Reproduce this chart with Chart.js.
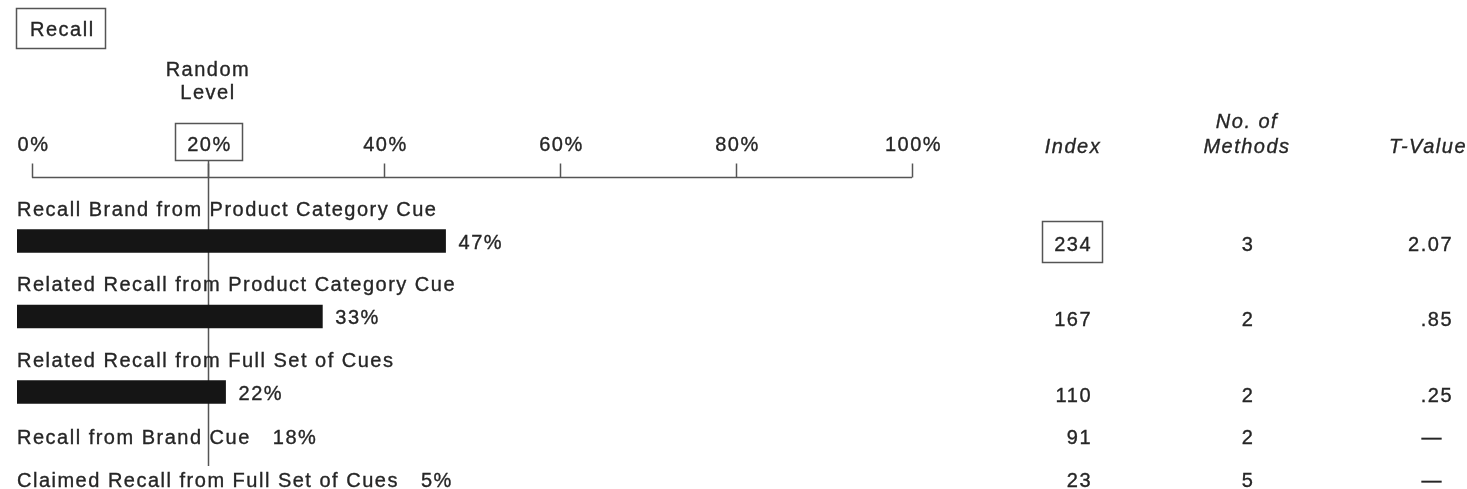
<!DOCTYPE html>
<html>
<head>
<meta charset="utf-8">
<script src="https://cdn.jsdelivr.net/npm/chart.js@4.4.0/dist/chart.umd.min.js"></script>
<style>
  html, body { margin: 0; padding: 0; background: #fff; }
  canvas { display: block; }
</style>
</head>
<body>
<canvas id="recallChart" width="1467" height="489"></canvas>
<script>
/* ---------- DATA ---------- */
const rowLabels = [
    "Recall Brand from Product Category Cue",
    "Related Recall from Product Category Cue",
    "Related Recall from Full Set of Cues",
    "Recall from Brand Cue",
    "Claimed Recall from Full Set of Cues"
];
const recallPct = [47, 33, 22, 18, 5];
const showBar = [true, true, true, false, false];
const indexValues = [234, 167, 110, 91, 23];
const methodCounts = [3, 2, 2, 2, 5];
const tValues = ["2.07", ".85", ".25", "\u2014", "\u2014"];
const axisTicks = [0, 20, 40, 60, 80, 100];
const randomLevel = 20;
const boxedIndexRow = 0;

/* ---------- STYLE ---------- */
const TEXT = "#262626";
const LINE = "#555555";
const BAR = "#151515";
const FONT = '20px "Liberation Sans", Arial, sans-serif';
const FONT_IT = 'italic 20px "Liberation Sans", Arial, sans-serif';
const SPACING = "1.5px";

/* row layout (y scale units = px below the axis line) */
const TOP_GAP = 31, LABEL_GAP = 33, ROW_GAP = 42.5;
const rowPos = [];
let cursor = TOP_GAP;
showBar.forEach((hasBar) => {
    if (hasBar) cursor += LABEL_GAP;
    rowPos.push(cursor);
    cursor += ROW_GAP;
});

const barData = recallPct
    .map((v, i) => ({ x: v, y: rowPos[i] }))
    .filter((_, i) => showBar[i]);

/* ---------- DRAW HELPERS ---------- */
function txt(ctx, s, x, y, align, font) {
    ctx.font = font || FONT;
    ctx.textAlign = align || "left";
    ctx.textBaseline = "middle";
    ctx.fillStyle = TEXT;
    ctx.strokeStyle = TEXT;
    ctx.lineWidth = 0.35;
    ctx.fillText(s, x, y);
    ctx.strokeText(s, x, y);
}

const randomLinePlugin = {
    id: "randomLine",
    beforeDatasetsDraw(chart) {
        const { ctx, scales: { x, y } } = chart;
        const px = Math.round(x.getPixelForValue(randomLevel)) + 0.5;
        const last = y.getPixelForValue(rowPos[rowPos.length - 1]);
        ctx.save();
        ctx.strokeStyle = LINE;
        ctx.lineWidth = 1.5;
        ctx.beginPath();
        ctx.moveTo(px, 161);
        ctx.lineTo(px, last - 11);
        ctx.stroke();
        ctx.restore();
    }
};

function box(ctx, x, y, w, h) {
    ctx.strokeStyle = LINE;
    ctx.lineWidth = 1.5;
    ctx.strokeRect(x, y, w, h);
}

const annotationPlugin = {
    id: "recallAnnotations",
    afterDatasetsDraw(chart) {
        const { ctx, chartArea, scales: { x, y } } = chart;
        ctx.save();
        ctx.letterSpacing = SPACING;

        /* title box */
        box(ctx, 16.5, 8.5, 89, 40);
        txt(ctx, "Recall", 30, 30);

        /* random level caption */
        const rx = x.getPixelForValue(randomLevel);
        txt(ctx, "Random", rx, 70, "center");
        txt(ctx, "Level", rx, 93, "center");

        /* top axis */
        const axisY = chartArea.top + 0.5;
        const x0 = x.getPixelForValue(axisTicks[0]);
        const x1 = x.getPixelForValue(axisTicks[axisTicks.length - 1]);
        ctx.strokeStyle = LINE;
        ctx.lineWidth = 1.5;
        ctx.beginPath();
        ctx.moveTo(x0, axisY);
        ctx.lineTo(x1, axisY);
        ctx.stroke();
        axisTicks.forEach((t) => {
            const tx = Math.round(x.getPixelForValue(t)) + 0.5;
            ctx.strokeStyle = LINE;
            ctx.lineWidth = 1.5;
            ctx.beginPath();
            ctx.moveTo(tx, axisY);
            ctx.lineTo(tx, axisY - 14);
            ctx.stroke();
            txt(ctx, t + "%", tx + 1, 145, "center");
            if (t === randomLevel) {
                box(ctx, Math.round(tx - 34) + 0.5, 123.5, 67, 37);
            }
        });

        /* table headers */
        const indexRight = 1090, methodsX = 1247, tRight = 1451;
        txt(ctx, "Index", indexRight - 17, 147, "center", FONT_IT);
        txt(ctx, "No. of", methodsX, 122, "center", FONT_IT);
        txt(ctx, "Methods", methodsX, 147, "center", FONT_IT);
        txt(ctx, "T-Value", 1467, 147, "right", FONT_IT);

        /* rows */
        rowLabels.forEach((label, i) => {
            const py = y.getPixelForValue(rowPos[i]);
            const valY = py + 4;
            if (showBar[i]) {
                txt(ctx, label, 17, py - 31);
                txt(ctx, recallPct[i] + "%", x.getPixelForValue(recallPct[i]) + 13, py + 2);
            } else {
                ctx.font = FONT;
                const w = ctx.measureText(label).width;
                txt(ctx, label, 17, valY);
                txt(ctx, recallPct[i] + "%", 17 + w + 22, valY);
            }
            txt(ctx, String(indexValues[i]), indexRight + 2, valY, "right");
            if (i === boxedIndexRow) {
                box(ctx, 1042.5, valY - 23.5, 60, 41);
            }
            txt(ctx, String(methodCounts[i]), methodsX + 1, valY, "center");
            const isDash = tValues[i] === "\u2014";
            txt(ctx, tValues[i], isDash ? tRight - 8 : tRight + 2, valY, "right");
        });

        ctx.restore();
    }
};

/* ---------- CHART ---------- */
const ctx = document.getElementById("recallChart").getContext("2d");

new Chart(ctx, {
    type: "bar",
    data: {
        datasets: [{
            label: "Recall",
            data: barData,
            backgroundColor: BAR,
            borderWidth: 0,
            barThickness: 23,
            base: -1.7
        }]
    },
    options: {
        indexAxis: "y",
        responsive: false,
        animation: false,
        layout: { padding: { left: 17, right: 555, top: 177, bottom: 1 } },
        plugins: {
            legend: { display: false },
            tooltip: { enabled: false }
        },
        scales: {
            x: {
                type: "linear",
                min: -1.7,
                max: 100,
                display: false,
                afterBuildTicks: (scale) => {
                    scale.ticks = axisTicks.map((v) => ({ value: v }));
                }
            },
            y: {
                type: "linear",
                min: 0,
                max: 311,
                reverse: true,
                offset: false,
                display: false
            }
        }
    },
    plugins: [randomLinePlugin, annotationPlugin]
});
</script>
</body>
</html>
